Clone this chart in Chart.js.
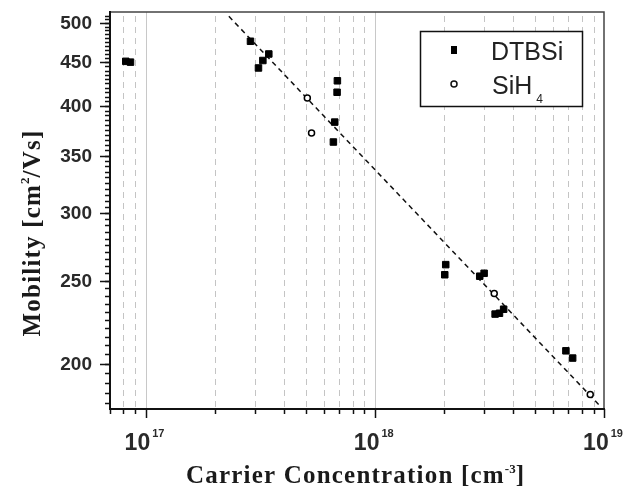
<!DOCTYPE html>
<html>
<head>
<meta charset="UTF-8" />
<title>Mobility vs Carrier Concentration</title>
<script src="https://cdn.jsdelivr.net/npm/chart.js"></script>
<style>
  html, body { margin: 0; padding: 0; background: #fff; }
</style>
</head>
<body>
<canvas id="myChart" width="626" height="492"></canvas>
<script>
// --- data ---
const dtbsiX = [8.2e16, 8.6e16, 2.87e17, 3.11e17, 3.25e17, 3.45e17, 6.87e17, 6.85e17, 6.69e17, 6.6e17,
                2.04e18, 2.02e18, 2.87e18, 3.0e18, 3.35e18, 3.5e18, 3.65e18, 6.82e18, 7.3e18];
const dtbsiY = [451, 450, 476, 443, 452, 460, 428, 415, 383, 363,
                261, 254, 253, 255, 228.5, 229, 231.5, 207, 203];
const sih4X = [5.08e17, 5.3e17, 3.32e18, 8.71e18];
const sih4Y = [408.5, 372, 241.5, 184];
// dashed fit line (end points)
const fitX = [2.31e17, 9.7e18];
const fitY = [509, 178];

const seriesNames = ['DTBSi', 'SiH', '4'];   // SiH + subscript 4
const xDecades = [1e17, 1e18, 1e19];
const xDecadeSup = ['17', '18', '19'];
const yLabels = [200, 250, 300, 350, 400, 450, 500];
const xTitle = ['Carrier Concentration [cm', '-3', ']'];
const yTitle = ['Mobility [cm', '2', '/Vs]'];

const X_MIN = 7.0e16, X_MAX = 1e19, Y_MIN = 177, Y_MAX = 515;

// minor positions for grid / ticks
const xMinor = [];
for (let d = 16; d <= 18; d++) {
  for (let m = 2; m <= 9; m++) {
    const v = m * Math.pow(10, d);
    if (v >= X_MIN && v <= X_MAX) xMinor.push(v);
  }
}
const yMinor = [];
for (let v = 180; v <= 510; v += 5) yMinor.push(v);

const toPts = (xs, ys) => xs.map((x, i) => ({ x: x, y: ys[i] }));

// draws text pieces one after the other (for super/subscripts)
function drawRich(ctx, parts, x, y, align) {
  let w = 0;
  parts.forEach(p => {
    ctx.font = p.font;
    ctx.letterSpacing = (p.ls || 0) + 'px';
    p.w = ctx.measureText(p.t).width + (p.dx || 0);
    w += p.w;
  });
  let cx = align === 'center' ? x - w / 2 : (align === 'right' ? x - w : x);
  parts.forEach(p => {
    ctx.font = p.font;
    ctx.letterSpacing = (p.ls || 0) + 'px';
    ctx.fillText(p.t, cx + (p.dx || 0), y + (p.dy || 0));
    cx += p.w;
  });
  ctx.letterSpacing = '0px';
}

const SANS = '"Liberation Sans", Arial, sans-serif';
const SERIF = '"Liberation Serif", "Times New Roman", serif';

const decor = {
  id: 'decor',
  beforeDatasetsDraw(chart) {
    const { ctx, chartArea: a, scales: { x } } = chart;
    ctx.save();
    // dashed minor grid
    ctx.strokeStyle = '#c4c4c4';
    ctx.lineWidth = 1;
    ctx.setLineDash([6, 5]);
    xMinor.forEach(v => {
      const px = Math.round(x.getPixelForValue(v)) + 0.5;
      ctx.beginPath(); ctx.moveTo(px, a.top + 4); ctx.lineTo(px, a.bottom); ctx.stroke();
    });
    // solid decade lines
    ctx.setLineDash([]);
    ctx.strokeStyle = '#c8c8c8';
    xDecades.forEach(v => {
      const px = Math.round(x.getPixelForValue(v)) + 0.5;
      if (px > a.left + 2 && px < a.right - 2) {
        ctx.beginPath(); ctx.moveTo(px, a.top); ctx.lineTo(px, a.bottom); ctx.stroke();
      }
    });
    ctx.restore();
  },
  afterDatasetsDraw(chart) {
    const { ctx, chartArea: a, scales: { x, y } } = chart;
    ctx.save();
    // frame
    ctx.strokeStyle = '#444';
    ctx.lineWidth = 1.5;
    ctx.beginPath(); ctx.moveTo(a.left, a.top); ctx.lineTo(a.right, a.top); ctx.lineTo(a.right, a.bottom); ctx.stroke();
    ctx.strokeStyle = '#111';
    ctx.lineWidth = 2;
    ctx.beginPath(); ctx.moveTo(a.left, a.top - 1); ctx.lineTo(a.left, a.bottom); ctx.lineTo(a.right + 1, a.bottom); ctx.stroke();

    // ticks
    ctx.lineWidth = 1.5;
    xMinor.forEach(v => {
      const px = Math.round(x.getPixelForValue(v)) + 0.5;
      ctx.beginPath(); ctx.moveTo(px, a.bottom); ctx.lineTo(px, a.bottom + 5); ctx.stroke();
    });
    xDecades.forEach(v => {
      const px = Math.round(x.getPixelForValue(v)) + 0.5;
      ctx.beginPath(); ctx.moveTo(px, a.bottom); ctx.lineTo(px, a.bottom + 9); ctx.stroke();
    });
    yMinor.forEach(v => {
      const py = Math.round(y.getPixelForValue(v)) + 0.5;
      ctx.beginPath(); ctx.moveTo(a.left, py); ctx.lineTo(a.left - 5, py); ctx.stroke();
    });
    yLabels.forEach(v => {
      const py = Math.round(y.getPixelForValue(v)) + 0.5;
      ctx.beginPath(); ctx.moveTo(a.left, py); ctx.lineTo(a.left - 10, py); ctx.stroke();
    });

    // tick labels
    ctx.fillStyle = '#2a2a2a';
    ctx.textBaseline = 'middle';
    ctx.textAlign = 'right';
    ctx.font = 'bold 19px ' + SANS;
    yLabels.forEach(v => ctx.fillText(String(v), 92, y.getPixelForValue(v) + 1));

    ctx.textBaseline = 'alphabetic';
    ctx.textAlign = 'left';
    xDecades.forEach((v, i) => {
      drawRich(ctx, [
        { t: '10', font: 'bold 23px ' + SANS },
        { t: xDecadeSup[i], font: 'bold 11px ' + SANS, dy: -13, dx: 2 }
      ], x.getPixelForValue(v) - 1, 450, 'center');
    });

    // axis titles
    ctx.fillStyle = '#1a1a1a';
    drawRich(ctx, [
      { t: xTitle[0], font: 'bold 25px ' + SERIF, ls: 1.2 },
      { t: xTitle[1], font: 'bold 13px ' + SERIF, dy: -10 },
      { t: xTitle[2], font: 'bold 25px ' + SERIF }
    ], 355, 483, 'center');

    ctx.save();
    ctx.translate(40, 233);
    ctx.rotate(-Math.PI / 2);
    drawRich(ctx, [
      { t: yTitle[0], font: 'bold 25px ' + SERIF, ls: 1.2 },
      { t: yTitle[1], font: 'bold 13px ' + SERIF, dy: -11 },
      { t: yTitle[2], font: 'bold 25px ' + SERIF, ls: 1.2 }
    ], 0, 0, 'center');
    ctx.restore();

    // legend
    ctx.fillStyle = '#fff';
    ctx.fillRect(420, 31, 163, 76);
    ctx.strokeStyle = '#111';
    ctx.lineWidth = 1.5;
    ctx.strokeRect(420.5, 31.5, 162, 75);
    ctx.fillStyle = '#000';
    ctx.fillRect(451, 46, 6, 8);
    ctx.beginPath(); ctx.arc(454, 84, 3, 0, Math.PI * 2);
    ctx.lineWidth = 1.5; ctx.stroke();
    ctx.fillStyle = '#222';
    ctx.font = '25px ' + SANS;
    ctx.textBaseline = 'alphabetic';
    ctx.fillText(seriesNames[0], 491, 60);
    drawRich(ctx, [
      { t: seriesNames[1], font: '25px ' + SANS },
      { t: seriesNames[2], font: '12px ' + SANS, dy: 9, dx: 4 }
    ], 492, 94, 'left');
    ctx.restore();
  }
};

const ctx = document.getElementById('myChart').getContext('2d');
new Chart(ctx, {
  type: 'scatter',
  data: {
    datasets: [
      {
        label: 'fit',
        data: toPts(fitX, fitY),
        showLine: true,
        borderColor: '#111',
        borderWidth: 1.5,
        borderDash: [5, 4],
        pointRadius: 0,
        order: 3
      },
      {
        label: seriesNames[0],
        data: toPts(dtbsiX, dtbsiY),
        pointStyle: 'rect',
        pointRadius: 4.6,
        backgroundColor: '#000',
        borderColor: '#000',
        borderWidth: 1,
        order: 1
      },
      {
        label: seriesNames[1] + seriesNames[2],
        data: toPts(sih4X, sih4Y),
        pointStyle: 'circle',
        pointRadius: 3,
        backgroundColor: '#fff',
        borderColor: '#000',
        borderWidth: 1.5,
        order: 2
      }
    ]
  },
  options: {
    responsive: false,
    animation: false,
    devicePixelRatio: 1,
    layout: { padding: { top: 12, right: 22, left: 0, bottom: 0 } },
    plugins: { legend: { display: false }, tooltip: { enabled: false } },
    scales: {
      x: {
        type: 'logarithmic',
        min: X_MIN, max: X_MAX,
        grid: { display: false },
        border: { display: false },
        ticks: { display: false },
        afterFit: s => { s.height = 83; }
      },
      y: {
        type: 'logarithmic',
        min: Y_MIN, max: Y_MAX,
        grid: { display: false },
        border: { display: false },
        ticks: { display: false },
        afterFit: s => { s.width = 110; }
      }
    }
  },
  plugins: [decor]
});
</script>
</body>
</html>
